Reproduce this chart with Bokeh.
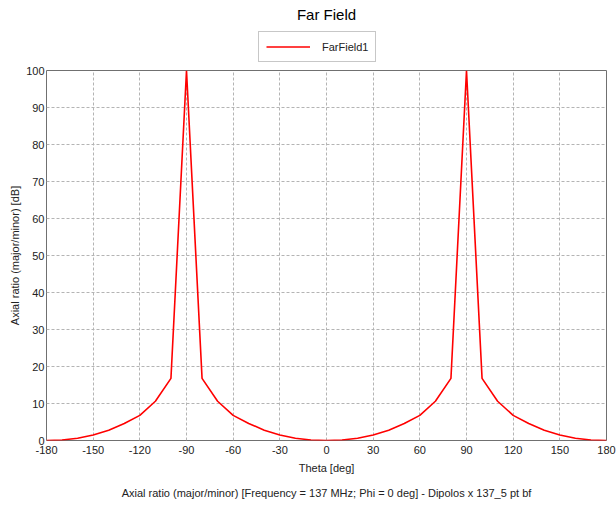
from bokeh.plotting import figure
from bokeh.layouts import column
from bokeh.models import Legend, LegendItem, Title, FixedTicker, Range1d
from bokeh.embed import file_html
from bokeh.resources import INLINE

theta = [-180, -170, -160, -150, -140, -130, -120, -110, -100, -90, -80, -70, -60, -50, -40, -30, -20, -10,
         0, 10, 20, 30, 40, 50, 60, 70, 80, 90, 100, 110, 120, 130, 140, 150, 160, 170, 180]
axial_ratio = [0.0, 0.15, 0.6, 1.5, 2.8, 4.6, 6.8, 10.6, 16.8, 100.0, 16.8, 10.6, 6.8, 4.6, 2.8, 1.5, 0.6, 0.15,
               0.0, 0.15, 0.6, 1.5, 2.8, 4.6, 6.8, 10.6, 16.8, 100.0, 16.8, 10.6, 6.8, 4.6, 2.8, 1.5, 0.6, 0.15, 0.0]
x_ticks = [-180, -150, -120, -90, -60, -30, 0, 30, 60, 90, 120, 150, 180]
y_ticks = [0, 10, 20, 30, 40, 50, 60, 70, 80, 90, 100]
series_name = "FarField1"

FONT = "Liberation Sans"
RED = "#ff0000"

# ---- header: title + legend ----
head = figure(width=616, height=62, output_backend="svg", toolbar_location=None,
              x_range=Range1d(0, 1), y_range=Range1d(0, 1),
              min_border_left=0, min_border_right=0, min_border_top=0, min_border_bottom=0)
head.axis.visible = False
head.grid.visible = False
head.outline_line_color = None
head.title.text = "Far Field"
head.title.align = "center"
head.title.text_font = FONT
head.title.text_font_size = "15px"
head.title.text_font_style = "normal"
head.title.text_color = "#000000"
head.title.offset = 26
head.title.standoff = 6
# legend-only renderer, drawn outside the visible range of the header
dummy = head.line(theta[:2], axial_ratio[:2], line_color=RED, line_width=1.6)
legend = Legend(items=[LegendItem(label=series_name, renderers=[dummy])],
                location=(212, 0), orientation="horizontal",
                label_text_font=FONT, label_text_font_size="11px", label_text_color="#222222",
                border_line_color="#909090", border_line_width=1, background_fill_alpha=1,
                glyph_width=44, glyph_height=15, label_height=15, label_standoff=12,
                padding=7, margin=0, spacing=0)
head.add_layout(legend, "center")

# ---- main plot ----
p = figure(width=616, height=444, output_backend="svg", toolbar_location=None,
           x_range=Range1d(-180, 180), y_range=Range1d(0, 100),
           min_border_left=46, min_border_right=10, min_border_top=8, min_border_bottom=0)

p.line(theta, axial_ratio, line_color=RED, line_width=1.6)

p.xaxis.ticker = FixedTicker(ticks=x_ticks)
p.yaxis.ticker = FixedTicker(ticks=y_ticks)
p.xaxis.major_label_overrides = {t: str(t) for t in x_ticks}
for ax in (p.xaxis[0], p.yaxis[0]):
    ax.major_label_text_font = FONT
    ax.major_label_text_font_size = "11px"
    ax.major_label_text_color = "#222222"
    ax.axis_label_text_font = FONT
    ax.axis_label_text_font_size = "11px"
    ax.axis_label_text_font_style = "normal"
    ax.axis_label_text_color = "#222222"
    ax.major_tick_line_color = None
    ax.minor_tick_line_color = None
    ax.axis_line_color = None
    ax.major_tick_in = 0
    ax.major_tick_out = 0
    ax.minor_tick_in = 0
    ax.minor_tick_out = 0
p.xaxis.major_label_standoff = 5
p.yaxis.major_label_standoff = 2
p.xaxis.axis_label = "Theta [deg]"
p.yaxis.axis_label = "Axial ratio (major/minor) [dB]"
p.xaxis.axis_label_standoff = 5
p.yaxis.axis_label_standoff = 2

p.xgrid.ticker = FixedTicker(ticks=x_ticks)
p.ygrid.ticker = FixedTicker(ticks=y_ticks)
p.grid.grid_line_color = "#b4b4b4"
p.grid.grid_line_dash = "3 2"
p.grid.grid_line_width = 1

p.outline_line_color = "#707070"
p.outline_line_width = 1

caption = Title(text="Axial ratio (major/minor) [Frequency = 137 MHz; Phi = 0 deg] - Dipolos x 137_5 pt bf",
                align="center", text_font=FONT, text_font_size="11px", text_font_style="normal",
                text_color="#222222", offset=0, standoff=16)
p.add_layout(caption, "below")

layout = column(head, p, spacing=0)
open("out.html", "w").write(file_html(layout, INLINE))
